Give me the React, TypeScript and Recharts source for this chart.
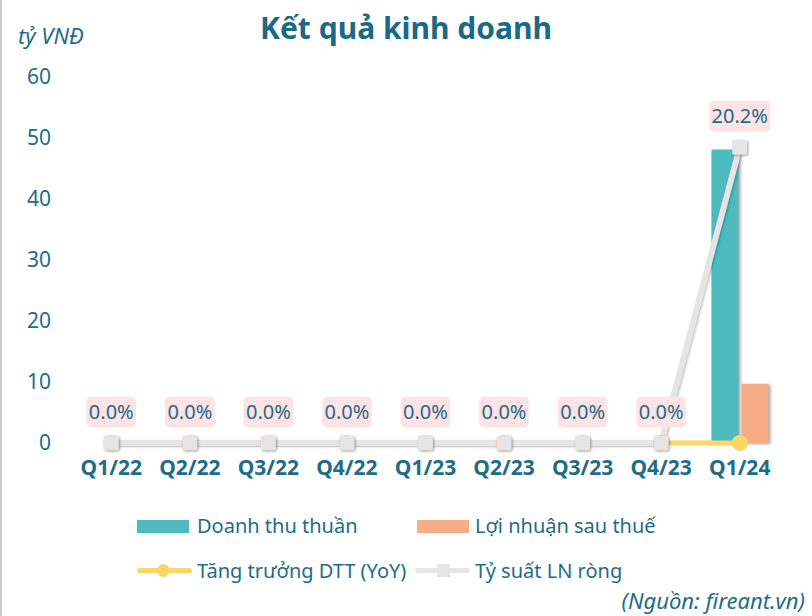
import React from 'react';
import {
  ComposedChart, Bar, Line, XAxis, YAxis, CartesianGrid, LabelList,
} from 'recharts';

const categories = ['Q1/22', 'Q2/22', 'Q3/22', 'Q4/22', 'Q1/23', 'Q2/23', 'Q3/23', 'Q4/23', 'Q1/24'];
const revenue = [0, 0, 0, 0, 0, 0, 0, 0, 48.1];
const profit = [0, 0, 0, 0, 0, 0, 0, 0, 9.7];
const growth = [0, 0, 0, 0, 0, 0, 0, 0, 0];
const netMargin = [0, 0, 0, 0, 0, 0, 0, 0, 20.2];
const leftTicks = [0, 10, 20, 30, 40, 50, 60];

const data = categories.map((q, i) => ({
  q,
  revenue: revenue[i],
  profit: profit[i],
  growth: growth[i],
  netMargin: netMargin[i],
}));

const FONT = '"Noto Sans", "Open Sans", sans-serif';
const TEXT = '#1e6c87';
const TEAL = '#4ebbbf';
const ORANGE = '#f6ad86';
const YELLOW = '#fbd666';
const GREY = '#e5e5e5';

const ShadowBar = (props: any) => {
  const { x, y, width, height, fill } = props;
  if (!height || height <= 0) return null;
  return (
    <rect x={x} y={y} width={width} height={height} fill={fill}
      style={{ filter: 'drop-shadow(2px 1px 1.5px rgba(0,0,0,0.35))' }} />
  );
};

const SquareDot = (props: any) => {
  const { cx, cy, index } = props;
  if (cx == null || cy == null) return null;
  return (
    <rect key={`sq-${index}`} x={cx - 7.5} y={cy - 7.5} width={15} height={15} rx={2} fill={GREY}
      style={{ filter: 'drop-shadow(1.5px 1.5px 1px rgba(0,0,0,0.35))' }} />
  );
};

const CircleDot = (props: any) => {
  const { cx, cy, index } = props;
  if (cx == null || cy == null) return null;
  return <circle key={`ci-${index}`} cx={cx} cy={cy} r={8} fill={YELLOW} />;
};

const charW = (s: string) => {
  let w = 0;
  for (const c of s) {
    if (c === '.') w += 5.4;
    else if (c === '%') w += 16.4;
    else w += 11.4;
  }
  return w;
};

const PctLabel = (props: any) => {
  const { x, y, value, index } = props;
  if (x == null || y == null) return null;
  const txt = `${Number(value).toFixed(1)}%`;
  const w = charW(txt) + 5;
  const h = 31;
  const cyL = y - 31;
  return (
    <g key={`lb-${index}`}>
      <rect x={x - w / 2} y={cyL - h / 2} width={w} height={h} rx={5} fill="#fde3e3" />
      <text x={x} y={cyL + 7} textAnchor="middle" fontSize={20} fontFamily={FONT} fill={TEXT}>{txt}</text>
    </g>
  );
};

export default function App() {
  return (
    <div style={{ position: 'absolute', left: 0, top: 0, width: 812, height: 616, background: '#fff', fontFamily: FONT, overflow: 'hidden' }}>
      <style>{`.grey-line .recharts-line-curve { filter: drop-shadow(1.5px 1px 1px rgba(0,0,0,0.25)); }`}</style>
      <div style={{ position: 'absolute', left: 0, top: 0, width: 2, height: 616, background: '#c9c9c9' }} />
      <div style={{ position: 'absolute', left: 0, top: 8, width: 812, textAlign: 'center', fontSize: 30, fontWeight: 700, color: '#1a6a86', lineHeight: '40px' }}>
        Kết quả kinh doanh
      </div>
      <div style={{ position: 'absolute', left: 18, top: 21, fontSize: 22, fontStyle: 'italic', color: TEXT, lineHeight: '28px' }}>
        tỷ VNĐ
      </div>
      <ComposedChart width={812} height={616} data={data} barGap={3} barSize={27}
        margin={{ top: 77, right: 33, left: 22, bottom: 143 }}>
        <CartesianGrid vertical={false} stroke="#cfcfcf" strokeDasharray="1.5 2" horizontalValues={[10, 20, 30, 40, 50, 60]} />
        <CartesianGrid vertical={false} stroke="#d9d9d9" strokeWidth={2} horizontalValues={[0]} />
        <XAxis dataKey="q" height={30} axisLine={false} tickLine={false}
          tickMargin={11} interval={0}
          tick={{ fill: TEXT, fontSize: 21, fontWeight: 700, fontFamily: FONT }} />
        <YAxis yAxisId="left" width={50} domain={[0, 60]} ticks={leftTicks} axisLine={false} tickLine={false}
          tickMargin={15} tick={{ fill: TEXT, fontSize: 21, fontFamily: FONT }} />
        <YAxis yAxisId="right" orientation="right" domain={[0, 25]} hide />
        <Bar yAxisId="left" dataKey="revenue" name="Doanh thu thuần" fill={TEAL} shape={ShadowBar} isAnimationActive={false} />
        <Bar yAxisId="left" dataKey="profit" name="Lợi nhuận sau thuế" fill={ORANGE} shape={ShadowBar} isAnimationActive={false} />
        <Line yAxisId="right" dataKey="growth" name="Tăng trưởng DTT (YoY)" stroke={YELLOW} strokeWidth={5}
          dot={CircleDot} activeDot={false} isAnimationActive={false} />
        <Line yAxisId="right" dataKey="netMargin" name="Tỷ suất LN ròng" stroke={GREY} strokeWidth={6}
          className="grey-line" dot={SquareDot} activeDot={false} isAnimationActive={false}>
          <LabelList dataKey="netMargin" content={PctLabel} />
        </Line>
      </ComposedChart>

      {/* Legend */}
      <div style={{ position: 'absolute', left: 137, top: 520, width: 52, height: 13, background: TEAL }} />
      <div style={{ position: 'absolute', left: 197, top: 512, fontSize: 20, color: TEXT, lineHeight: '28px', whiteSpace: 'nowrap' }}>Doanh thu thuần</div>
      <div style={{ position: 'absolute', left: 417, top: 520, width: 52, height: 13, background: ORANGE }} />
      <div style={{ position: 'absolute', left: 475, top: 512, fontSize: 20, color: TEXT, lineHeight: '28px', whiteSpace: 'nowrap' }}>Lợi nhuận sau thuế</div>

      <div style={{ position: 'absolute', left: 137, top: 568, width: 55, height: 5, borderRadius: 3, background: YELLOW }} />
      <div style={{ position: 'absolute', left: 157, top: 564, width: 13, height: 13, borderRadius: 7, background: YELLOW }} />
      <div style={{ position: 'absolute', left: 197, top: 557, fontSize: 20, color: TEXT, lineHeight: '28px', whiteSpace: 'nowrap' }}>Tăng trưởng DTT (YoY)</div>
      <div style={{ position: 'absolute', left: 415, top: 568, width: 55, height: 5, borderRadius: 3, background: GREY }} />
      <div style={{ position: 'absolute', left: 437, top: 564, width: 13, height: 13, background: GREY }} />
      <div style={{ position: 'absolute', left: 475, top: 557, fontSize: 20, color: TEXT, lineHeight: '28px', whiteSpace: 'nowrap' }}>Tỷ suất LN ròng</div>

      <div style={{ position: 'absolute', right: 7, top: 585, fontSize: 22, fontStyle: 'italic', color: TEXT, lineHeight: '30px', whiteSpace: 'nowrap' }}>
        (Nguồn: fireant.vn)
      </div>
    </div>
  );
}
